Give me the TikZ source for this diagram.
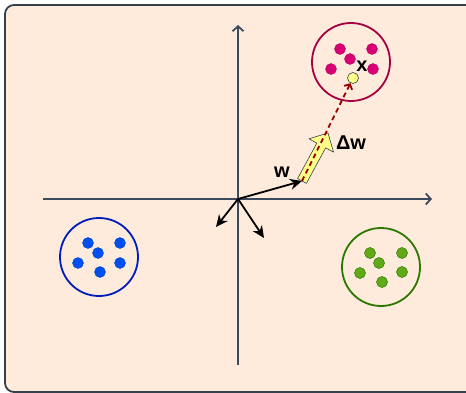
\documentclass[tikz,border=0pt]{standalone}
\usepackage{fontspec}
\setmainfont{Liberation Sans}
\usepackage{tikz}
\usetikzlibrary{positioning}
\usetikzlibrary{calc}
\usetikzlibrary{arrows.meta}

\definecolor{paper}{HTML}{FFEBDC}
\definecolor{framegray}{HTML}{36404A}
\definecolor{axisgray}{HTML}{3B4A5C}
\definecolor{pinkline}{HTML}{A50040}
\definecolor{pinkdot}{HTML}{D80073}
\definecolor{blueline}{HTML}{001DBC}
\definecolor{bluedot}{HTML}{0050EF}
\definecolor{greenline}{HTML}{2D7600}
\definecolor{greendot}{HTML}{60A917}
\definecolor{pale}{HTML}{FFFF88}
\definecolor{darkred}{HTML}{990000}

\tikzset{
    cluster/.style={draw,circle,minimum size=78pt,inner sep=0pt,line width=1.8pt},
    dot/.style={circle,minimum size=11pt,inner sep=0pt},
    vec/.style={-{Stealth[length=12pt,width=11pt]},line width=1.8pt},
    axisline/.style={axisgray,line width=1.8pt,-{Straight Barb[length=5pt,width=11pt]}},
    lbl/.style={font=\bfseries\fontsize{20}{22}\selectfont,inner sep=1pt},
}

\begin{document}
\begin{tikzpicture}[x=1pt, y=-1pt]
    \useasboundingbox (0,0) rectangle (466,393);
    \begin{scope}
        \clip (0,0) rectangle (466,393);
        \draw[framegray, fill=paper, line width=1.8pt, rounded corners=9pt] (5,5) rectangle (482,392);
    \end{scope}

    % axes
    \coordinate (o) at (238,199);
    \coordinate (ybot) at (238,365);
    \coordinate (ytop) at (238,25);
    \coordinate (xleft) at (43,199);
    \coordinate (xright) at (432,199);
    \draw[axisline] (ybot) -- (ytop);
    \draw[axisline] (xleft) -- (xright);

    % clusters
    \node[cluster, draw=pinkline] (pink) at (351,62) {};
    \foreach \dx/\dy [count=\i] in {-11/-13, 21/-13, -1/-3, -20/7, 22/7}
        \node[dot, fill=pinkdot, draw=pinkdot!85!black, line width=0.4pt] (p\i) at ($(pink)+(\dx,\dy)$) {};
    \node[cluster, draw=blueline] (blue) at (99,257) {};
    \foreach \dx/\dy [count=\i] in {-11/-14, 21/-14, -1/-4, -21/6, 21/6, 1/15}
        \node[dot, fill=bluedot, draw=bluedot!85!black, line width=0.4pt] (b\i) at ($(blue)+(\dx,\dy)$) {};
    \node[cluster, draw=greenline] (green) at (381,267) {};
    \foreach \dx/\dy [count=\i] in {-11/-14, 21/-14, -2/-4, -21/6, 21/5, 1/15}
        \node[dot, fill=greendot, draw=greenline, line width=0.5pt] (g\i) at ($(green)+(\dx,\dy)$) {};

    % sample x
    \node[dot, minimum size=11pt, fill=pale, draw=framegray, line width=0.6pt] (xpt) at (353,78) {};
    \node[lbl] (xlbl) at (362,66) {x};

    % weight vectors
    \coordinate (wtip) at (302,181);
    \coordinate (n1) at (216,227);
    \coordinate (n2) at (264,238);
    \draw[vec] (o) -- (wtip);
    \draw[vec] (o) -- (n1);
    \draw[vec] (o) -- (n2);
    \node[lbl] (wlbl) at (282,172) {w};

    % update arrow
    \coordinate (dwtip) at (328,133);
    \coordinate (dwhead) at ($(wtip)!0.74!(dwtip)$);
    \draw[framegray, fill=pale, line width=0.6pt, line join=round]
        ($(wtip)!5pt!90:(dwtip)$) -- ($(dwhead)!5pt!90:(dwtip)$) -- ($(dwhead)!14pt!90:(dwtip)$)
        -- (dwtip) -- ($(dwhead)!14pt!-90:(dwtip)$) -- ($(dwhead)!5pt!-90:(dwtip)$)
        -- ($(wtip)!5pt!-90:(dwtip)$) -- cycle;
    \node[lbl] (dwlbl) at (351,143) {Δw};

    \draw[darkred, line width=1.8pt, dash pattern=on 5pt off 3.5pt, -{Straight Barb[length=4pt,width=9pt]}]
        (wtip) -- (xpt);
\end{tikzpicture}
\end{document}
